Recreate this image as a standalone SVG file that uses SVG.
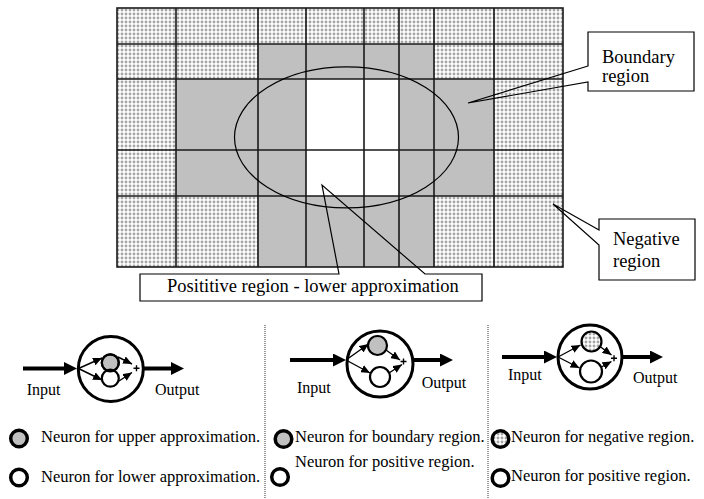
<svg xmlns="http://www.w3.org/2000/svg" width="704" height="499" viewBox="0 0 704 499">
  <defs>
    <!-- light dotted fill used for the negative region -->
    <pattern id="dots" width="4" height="4" patternUnits="userSpaceOnUse">
      <rect width="4" height="4" fill="#ffffff"/>
      <circle cx="2" cy="2" r="1.45" fill="#a6a6a6"/>
    </pattern>
    <marker id="tip" viewBox="0 0 9 8" refX="9" refY="4" markerWidth="9" markerHeight="8" markerUnits="userSpaceOnUse" orient="auto">
      <path d="M0,0 L9,4 L0,8 Z" fill="#000"/>
    </marker>
    <marker id="bigtip" viewBox="0 0 13 13" refX="5" refY="6.5" markerWidth="13" markerHeight="13" markerUnits="userSpaceOnUse" orient="auto">
      <path d="M0,0 L13,6.5 L0,13 Z" fill="#000"/>
    </marker>
  </defs>
  <style>
    text { font-family: "Liberation Serif", "Times New Roman", serif; fill: #000; }
    .call { font-size: 18.5px; }
    .io { font-size: 16px; }
    .leg { font-size: 16.5px; }
    .gl { stroke: #1a1a1a; stroke-width: 1.6; fill: none; }
    .gray { fill: #c0c0c0; }
    .hatch { fill: url(#dots); }
    .outline { fill: none; stroke: #000; stroke-width: 1.2; }
    .ring { fill: #fff; stroke: #000; stroke-width: 3; }
    .cell { stroke: #000; stroke-width: 2.2; }
    .legc { stroke: #000; stroke-width: 3.5; }
    .thick { stroke: #000; stroke-width: 4; fill: none; }
    .thin { stroke: #000; stroke-width: 1.4; fill: none; }
    .sep { stroke: #333; stroke-width: 1; stroke-dasharray: 1 1; fill: none; }
  </style>

  <rect width="704" height="499" fill="#ffffff"/>

  <!-- approximation grid -->
  <g id="grid">
    <rect x="117" y="8" width="446" height="259" class="hatch"/>
    <rect x="258" y="44" width="176" height="35" class="gray"/>
    <rect x="176" y="79" width="130" height="117" class="gray"/>
    <rect x="399" y="79" width="95" height="117" class="gray"/>
    <rect x="258" y="196" width="176" height="71" class="gray"/>
    <rect x="306" y="79" width="93" height="117" fill="#ffffff"/>
    <path class="gl" d="M176,8V267 M258,8V267 M306,8V267 M364,8V267 M399,8V267 M434,8V267 M494,8V267 M117,44H563 M117,79H563 M117,150H563 M117,196H563"/>
    <rect x="117" y="8" width="446" height="259" class="gl"/>
  </g>

  <g id="target-set">
    <ellipse cx="346.5" cy="137.3" rx="112" ry="70.5" class="outline" stroke-width="1.6"/>
  </g>

  <!-- callouts -->
  <g id="callout-boundary">
    <rect x="588" y="32" width="106" height="59" fill="#ffffff"/>
    <path class="outline" d="M588,66 L468,103 L588,82 L588,91 L694,91 L694,32 L588,32 Z"/>
    <text class="call" x="602" y="63">Boundary</text>
    <text class="call" x="602" y="81.5">region</text>
  </g>
  <g id="callout-negative">
    <rect x="599" y="219" width="96" height="61" fill="#ffffff"/>
    <path class="outline" d="M599,230 L553,204 L599,245 L599,280 L695,280 L695,219 L599,219 Z"/>
    <text class="call" x="613" y="245">Negative</text>
    <text class="call" x="613" y="266.5">region</text>
  </g>
  <g id="callout-positive">
    <rect x="140" y="274" width="342" height="27" fill="#ffffff"/>
    <path class="outline" d="M339,274 L322,185 L425,274 L482,274 L482,301 L140,301 L140,274 Z"/>
    <text class="call" x="167" y="292">Posititive region - lower approximation</text>
  </g>

  <!-- column separators -->
  <g id="separators">
    <line class="sep" x1="265" y1="325" x2="265" y2="498"/>
    <line class="sep" x1="488" y1="325" x2="488" y2="498"/>
  </g>

  <!-- neuron 1: upper / lower approximation -->
  <g id="neuron-1">
    <circle cx="110.8" cy="369" r="32.5" class="ring"/>
    <circle cx="110.3" cy="362.8" r="8.5" class="cell gray"/>
    <circle cx="110.3" cy="378.2" r="8.5" class="cell" fill="#ffffff"/>
    <circle cx="110.3" cy="362.8" r="8.5" class="cell" fill="none"/>
    <path d="M133.5,368.3h6 M136.5,365.3v6" class="thin"/>
    <text class="io" x="26.7" y="395">Input</text>
    <text class="io" x="155" y="395">Output</text>
  </g>

  <!-- neuron 2: boundary / positive -->
  <g id="neuron-2">
    <circle cx="380" cy="364" r="33" class="ring"/>
    <circle cx="377.5" cy="345.5" r="9.5" class="cell gray"/>
    <circle cx="380" cy="377" r="10" class="cell" fill="#ffffff"/>
    <path d="M400.5,361.5h6 M403.5,358.5v6" class="thin"/>
    <text class="io" x="297" y="393">Input</text>
    <text class="io" x="421.7" y="388">Output</text>
  </g>

  <!-- neuron 3: negative / positive -->
  <g id="neuron-3">
    <circle cx="590" cy="357" r="32" class="ring"/>
    <circle cx="591.5" cy="341.5" r="10" class="cell hatch"/>
    <circle cx="591" cy="371.5" r="11" class="cell" fill="#ffffff"/>
    <path d="M611,358.3h6 M614,355.3v6" class="thin"/>
    <text class="io" x="508" y="380">Input</text>
    <text class="io" x="633" y="383">Output</text>
  </g>

  <!-- arrows -->
  <g id="connectors">
    <line class="thick" x1="23" y1="368.5" x2="69" y2="368.5" marker-end="url(#bigtip)"/>
    <line class="thick" x1="143" y1="368.5" x2="176" y2="368.5" marker-end="url(#bigtip)"/>
    <line class="thin" x1="78.5" y1="368.5" x2="102" y2="358" marker-end="url(#tip)"/>
    <line class="thin" x1="78.5" y1="368.5" x2="102" y2="380" marker-end="url(#tip)"/>
    <line class="thin" x1="118" y1="357" x2="132" y2="364" marker-end="url(#tip)"/>
    <line class="thin" x1="119" y1="381" x2="132" y2="372.5" marker-end="url(#tip)"/>

    <line class="thick" x1="290" y1="360" x2="338" y2="360" marker-end="url(#bigtip)"/>
    <line class="thick" x1="413" y1="360" x2="445" y2="360" marker-end="url(#bigtip)"/>
    <line class="thin" x1="346" y1="360" x2="368.5" y2="344" marker-end="url(#tip)"/>
    <line class="thin" x1="346" y1="360" x2="370" y2="373" marker-end="url(#tip)"/>
    <line class="thin" x1="386" y1="350" x2="400" y2="360" marker-end="url(#tip)"/>
    <line class="thin" x1="389" y1="373" x2="402" y2="364.5" marker-end="url(#tip)"/>

    <line class="thick" x1="502" y1="357" x2="549" y2="357" marker-end="url(#bigtip)"/>
    <line class="thick" x1="623" y1="357" x2="655" y2="357" marker-end="url(#bigtip)"/>
    <line class="thin" x1="558" y1="357" x2="580.5" y2="345" marker-end="url(#tip)"/>
    <line class="thin" x1="558" y1="357" x2="579.5" y2="368" marker-end="url(#tip)"/>
    <line class="thin" x1="600" y1="346.5" x2="611.5" y2="355" marker-end="url(#tip)"/>
    <line class="thin" x1="601.5" y1="367" x2="611.5" y2="361.5" marker-end="url(#tip)"/>
  </g>

  <!-- legend -->
  <g id="legend-1">
    <circle cx="19" cy="438.5" r="8.3" class="legc gray"/>
    <text class="leg" x="41" y="442">Neuron for upper approximation.</text>
    <circle cx="19" cy="477.5" r="8.3" class="legc" fill="#ffffff"/>
    <text class="leg" x="41" y="482">Neuron for lower approximation.</text>
  </g>
  <g id="legend-2">
    <circle cx="283.5" cy="439" r="8.3" class="legc gray"/>
    <text class="leg" x="295" y="442">Neuron for boundary region.</text>
    <circle cx="280" cy="477" r="8.3" class="legc" fill="#ffffff"/>
    <text class="leg" x="295" y="467">Neuron for positive region.</text>
  </g>
  <g id="legend-3">
    <circle cx="500.5" cy="439" r="8.3" class="legc hatch"/>
    <text class="leg" x="511" y="442">Neuron for negative region.</text>
    <circle cx="500.5" cy="478" r="8.3" class="legc" fill="#ffffff"/>
    <text class="leg" x="511" y="481">Neuron for positive region.</text>
  </g>
</svg>
